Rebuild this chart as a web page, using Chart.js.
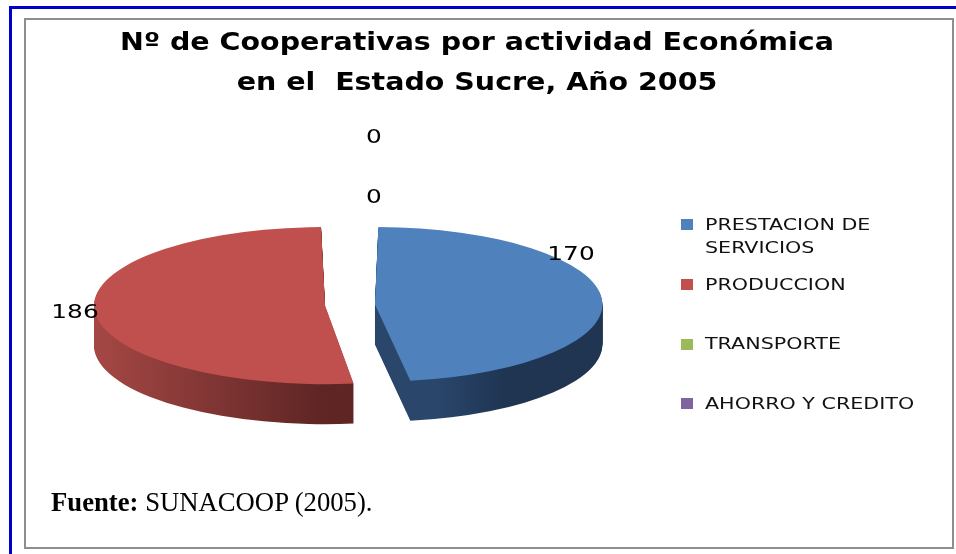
<!DOCTYPE html>
<html lang="es"><head><meta charset="utf-8">
<script src="https://cdn.jsdelivr.net/npm/chart.js@4"></script>
<style>
html,body{margin:0;padding:0;background:#fff;width:956px;height:554px;overflow:hidden}
#blueTop{position:absolute;left:9px;top:6px;width:947px;height:3px;background:#0000cc}
#blueLeft{position:absolute;left:9px;top:6px;width:3px;height:548px;background:#0000cc}
#box{position:absolute;left:24px;top:18px;width:926px;height:527px;border:2px solid #8e8e8e}
#c{position:absolute;left:0;top:0}
#src{position:absolute;left:51px;top:487px;font:26.7px "Liberation Serif",serif;color:#000;white-space:nowrap}
</style></head><body>
<div id="blueTop"></div><div id="blueLeft"></div><div id="box"></div>
<canvas id="c" width="956" height="554"></canvas>
<div id="src"><b>Fuente:</b> SUNACOOP (2005).</div>
<script>
const categories = ["PRESTACION DE SERVICIOS", "PRODUCCION", "TRANSPORTE", "AHORRO Y CREDITO"];
const values = [170, 186, 0, 0];
const titleLines = ["Nº de Cooperativas por actividad Económica", "en el  Estado Sucre, Año 2005"];
const colors = ["#4F81BD", "#C0504D", "#9BBB59", "#8064A2"];

// presentation of the flattened pie
const PIE = {cx: 350, cy: 305, flat: 0.34, depth: 40, radius: 206, explode: 25};
const TITLE_STRETCH = 1.14;
const LABEL_FONT = '20px "DejaVu Sans"';
const LEGEND_FONT = '16px "DejaVu Sans"';
const labelAnchors = [[571, 255], [75, 313], [374, 198], [374, 138]];
const legendRows = [
  {box: 219, lines: [["PRESTACION DE", 226], ["SERVICIOS", 249]]},
  {box: 279, lines: [["PRODUCCION", 286]]},
  {box: 339, lines: [["TRANSPORTE", 345]]},
  {box: 398, lines: [["AHORRO Y CREDITO", 405]]}
];

function stretched(ctx, text, x, y, sx, align) {
  ctx.save();
  ctx.translate(x, y);
  ctx.scale(sx, 1);
  ctx.textAlign = align;
  ctx.textBaseline = "middle";
  ctx.fillText(text, 0, 0);
  ctx.restore();
}

function applyPieTransform(chart, ctx, extraY) {
  const a = chart.getDatasetMeta(0).data[0];
  ctx.translate(PIE.cx, PIE.cy + extraY);
  ctx.scale(1, PIE.flat);
  ctx.translate(-a.x, -a.y);
}

const pie3d = {
  id: "pie3d",
  beforeDraw(chart) {
    const ctx = chart.ctx;
    ctx.save();
    ctx.translate(477, 0);
    ctx.scale(TITLE_STRETCH, 1);
    ctx.translate(-chart.width / 2, 0);
  },
  beforeDatasetsDraw(chart) {
    const ctx = chart.ctx;
    ctx.restore();
    const arcs = chart.getDatasetMeta(0).data;
    const a0 = arcs[0];
    const dx = a0.x - PIE.cx;
    const gradBlue = ctx.createLinearGradient(412 + dx, 0, 480 + dx, 0);
    gradBlue.addColorStop(0, "#2A466B");
    gradBlue.addColorStop(1, "#1F3552");
    const gradRed = ctx.createLinearGradient(95 + dx, 0, 348 + dx, 0);
    gradRed.addColorStop(0, "#AC4B48");
    gradRed.addColorStop(1, "#5E2524");
    const sides = [gradBlue, gradRed, "#6f8a3a", "#5a4674"];
    for (let k = PIE.depth; k >= 1; k--) {
      ctx.save();
      applyPieTransform(chart, ctx, k);
      arcs.forEach((arc, i) => {
        const o = arc.options;
        arc.options = Object.assign({}, o, {backgroundColor: sides[i], borderWidth: 0, offset: o.offset, spacing: o.spacing, borderRadius: o.borderRadius, borderAlign: o.borderAlign, circular: true, angle: o.angle});
        arc.draw(ctx);
        arc.options = o;
      });
      ctx.restore();
    }
    ctx.save();
    applyPieTransform(chart, ctx, 0);
  },
  afterDatasetsDraw(chart) {
    const ctx = chart.ctx;
    ctx.restore();
    ctx.fillStyle = "#000";
    ctx.font = LABEL_FONT;
    values.forEach((v, i) => {
      stretched(ctx, String(v), labelAnchors[i][0], labelAnchors[i][1], 1.24, "center");
    });
    ctx.font = LEGEND_FONT;
    legendRows.forEach((row, i) => {
      ctx.fillStyle = colors[i];
      ctx.fillRect(681, row.box, 12, 11);
      ctx.fillStyle = "#111";
      row.lines.forEach(l => stretched(ctx, l[0], 705, l[1], 1.29, "left"));
    });
  }
};

new Chart(document.getElementById("c"), {
  type: "pie",
  data: {
    labels: categories,
    datasets: [{
      data: values,
      backgroundColor: colors,
      borderWidth: 0,
      offset: PIE.explode * 4,
      clip: false
    }]
  },
  options: {
    responsive: false,
    animation: false,
    radius: PIE.radius,
    events: [],
    layout: {padding: 0},
    plugins: {
      legend: {display: false},
      tooltip: {enabled: false},
      title: {
        display: true,
        text: titleLines,
        color: "#000",
        font: {family: '"DejaVu Sans"', size: 25, weight: "bold", lineHeight: 1.6},
        padding: {top: 23, bottom: 0}
      }
    }
  },
  plugins: [pie3d]
});
</script>
</body></html>
